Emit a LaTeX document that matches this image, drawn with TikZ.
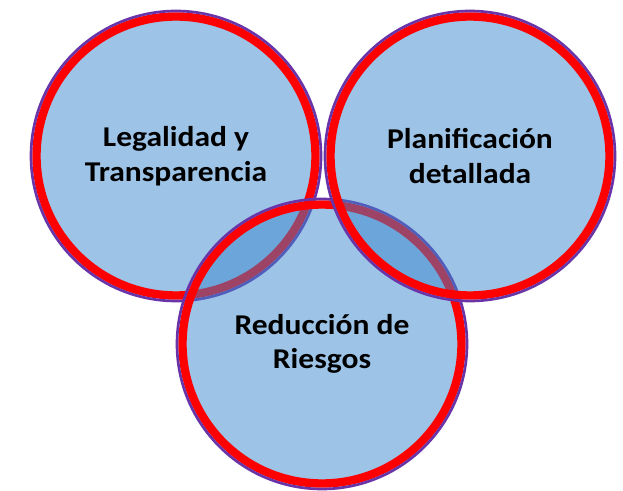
\documentclass[tikz,border=0pt]{standalone}
\usepackage{fontspec}
\setmainfont{Carlito}
\newfontfamily\areafont[FakeStretch=1.1]{Carlito}
\definecolor{areafill}{RGB}{59,135,205}
\definecolor{ringred}{RGB}{255,0,0}
\definecolor{ringedge}{RGB}{104,52,168}
\tikzset{every picture/.style={line width=0.75pt}}
\tikzset{
  area/.style={circle, minimum size=209.25pt, inner sep=0pt,
    fill=areafill, fill opacity=0.5, text opacity=1,
    draw=ringred, line width=6.3pt, align=center,
    font=\areafont\fontsize{21.5pt}{26pt}\selectfont\bfseries},
  areaedge/.style={draw=ringedge, line width=2pt}
}

\begin{document}
\begin{tikzpicture}[x=0.75pt,y=0.75pt,yscale=-1,xscale=1]
\useasboundingbox (0,0) rectangle (623,491);

%Shape: Circle [id:legal]
\node [area] (legal) at (176,156) {Legalidad y\\Transparencia};
\draw [areaedge] (legal.center) circle [radius=145];
%Shape: Circle [id:riesgo]
\node [area] (riesgo) at (322,344) {Reducción de\\Riesgos};
\draw [areaedge] (riesgo.center) circle [radius=145];
%Shape: Circle [id:plan]
\node [area] (plan) at (470,156) {Planificación\\detallada};
\draw [areaedge] (plan.center) circle [radius=145];

\end{tikzpicture}
\end{document}
